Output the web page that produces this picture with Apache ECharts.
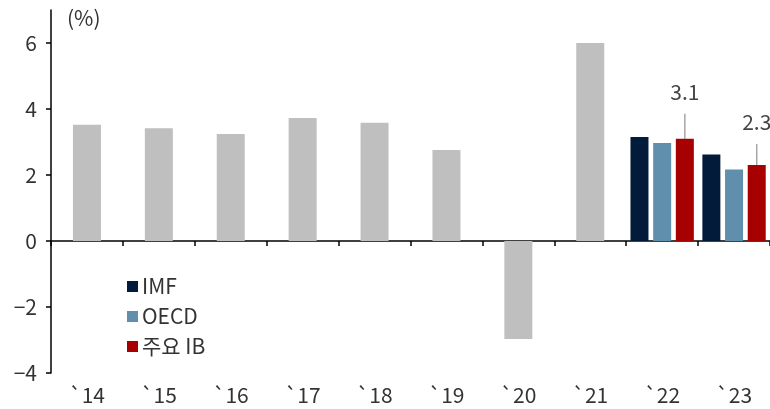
<!DOCTYPE html>
<html>
<head>
<meta charset="utf-8">
<script src="https://cdn.jsdelivr.net/npm/echarts@6/dist/echarts.min.js"></script>
<style>
  html, body { margin: 0; padding: 0; background: #fff; }
  #chart { width: 770px; height: 409px; }
</style>
</head>
<body>
<div id="chart"></div>
<script>
  var years = ['`14', '`15', '`16', '`17', '`18', '`19', '`20', '`21', '`22', '`23']
  var actual = [3.52, 3.42, 3.24, 3.73, 3.58, 2.76, -2.97, 6.0, null, null]
  var imf = [null, null, null, null, null, null, null, null, 3.15, 2.62]
  var oecd = [null, null, null, null, null, null, null, null, 2.97, 2.17]
  var majorIB = [null, null, null, null, null, null, null, null, 3.1, 2.3]
  var yTicks = [-4, -2, 0, 2, 4, 6]

  var font = '"Noto Sans CJK KR", "Noto Sans", sans-serif'
  var chart = echarts.init(document.getElementById('chart'))

  var option = {
    animation: false,
    textStyle: { fontFamily: font },
    title: {
      text: '(%)',
      left: 62,
      top: 3,
      textStyle: { fontFamily: font, fontSize: 21, fontWeight: 'normal', color: '#333' }
    },
    grid: { left: 51, right: -1, top: 10, bottom: 36, containLabel: false },
    legend: {
      data: ['IMF', 'OECD', '주요 IB'],
      orient: 'vertical',
      left: 122,
      top: 271,
      icon: 'rect',
      itemWidth: 11,
      itemHeight: 11,
      itemGap: 9,
      textStyle: { fontFamily: font, fontSize: 21, color: '#333', lineHeight: 21, padding: [0, 0, 0, -1] }
    },
    xAxis: [
      {
        type: 'category',
        data: years,
        position: 'bottom',
        axisLine: { onZero: true, lineStyle: { color: '#000', width: 1.5 } },
        axisTick: { show: true, inside: false, length: 5, lineStyle: { color: '#000', width: 1.5 } },
        axisLabel: { show: false }
      },
      {
        type: 'category',
        data: years,
        position: 'bottom',
        axisLine: { show: false, onZero: false },
        axisTick: { show: false },
        axisLabel: { fontFamily: font, fontSize: 21, color: '#333', margin: 12 }
      }
    ],
    yAxis: {
      type: 'value',
      min: -4,
      max: 7,
      interval: 2,
      splitLine: { show: false },
      axisLine: { show: true, lineStyle: { color: '#000', width: 1.5 } },
      axisTick: { show: true, length: 5, customValues: yTicks, lineStyle: { color: '#000', width: 1.5 } },
      axisLabel: {
        fontFamily: font,
        fontSize: 21,
        color: '#333',
        margin: 14,
        customValues: yTicks,
        formatter: function (v) { return String(v).replace('-', '\u2212') }
      }
    },
    series: [
      {
        name: '실적',
        type: 'bar',
        xAxisIndex: 0,
        barWidth: 28,
        itemStyle: { color: '#bfbfbf' },
        data: actual
      },
      {
        name: 'IMF',
        type: 'bar',
        xAxisIndex: 1,
        barWidth: 18,
        barGap: '26%',
        itemStyle: { color: '#021b3a' },
        data: imf
      },
      {
        name: 'OECD',
        type: 'bar',
        xAxisIndex: 1,
        barWidth: 18,
        barGap: '26%',
        itemStyle: { color: '#5f8fac' },
        data: oecd
      },
      {
        name: '주요 IB',
        type: 'bar',
        xAxisIndex: 1,
        barWidth: 18,
        barGap: '26%',
        itemStyle: { color: '#a60000' },
        label: {
          show: true,
          position: 'top',
          distance: 0,
          formatter: function (p) { return p.value == null ? '' : '{v|' + p.value.toFixed(1) + '}\n{g|}' },
          rich: {
            v: { fontFamily: font, fontSize: 21, color: '#444', lineHeight: 22 },
            g: { height: 10, lineHeight: 10 }
          }
        },
        labelLayout: function (p) { return { dy: p.dataIndex === 8 ? -26 : -22 } },
        labelLine: { show: true, lineStyle: { color: '#a6a6a6', width: 1.5 } },
        data: majorIB
      }
    ]
  }
  chart.setOption(option)
</script>
</body>
</html>
